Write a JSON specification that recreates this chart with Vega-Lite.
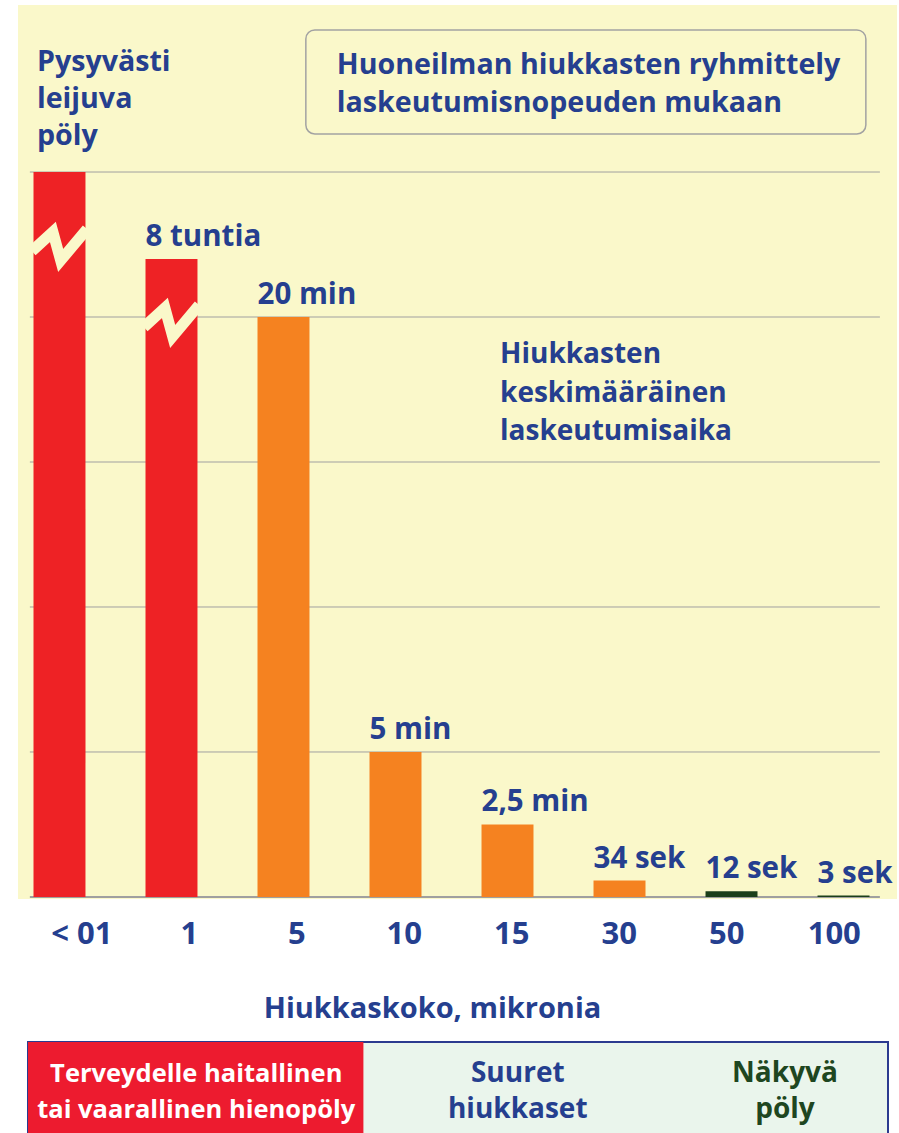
{
  "$schema": "https://vega.github.io/schema/vega-lite/v6.json",
  "width": 879,
  "height": 894,
  "autosize": {"type": "none"},
  "padding": {"left": 18, "top": 5, "right": 2, "bottom": 234},
  "background": "#ffffff",
  "config": {
    "view": {"fill": "#faf8ca", "stroke": null},
    "font": "Open Sans",
    "text": {"font": "Open Sans", "fontWeight": "bold", "fontSize": 28, "color": "#253f8f"}
  },
  "datasets": {
    "hiukkaset": [
      {"size": "< 01", "minutes": 25, "label": "", "luokka": "leijuva", "zone": "hieno", "brk": 22.55},
      {"size": "1", "minutes": 22, "label": "8 tuntia", "luokka": "leijuva", "zone": "hieno", "brk": 19.93},
      {"size": "5", "minutes": 20, "label": "20 min", "luokka": "laskeutuva", "zone": "hieno"},
      {"size": "10", "minutes": 5, "label": "5 min", "luokka": "laskeutuva", "zone": "suuret"},
      {"size": "15", "minutes": 2.5, "label": "2,5 min", "luokka": "laskeutuva", "zone": "suuret"},
      {"size": "30", "minutes": 0.567, "label": "34 sek", "luokka": "laskeutuva", "zone": "suuret"},
      {"size": "50", "minutes": 0.2, "label": "12 sek", "luokka": "näkyvä", "zone": "näkyvä"},
      {"size": "100", "minutes": 0.05, "label": "3 sek", "luokka": "näkyvä", "zone": "näkyvä"}
    ]
  },
  "resolve": {"scale": {"x": "independent"}, "axis": {"x": "independent"}},
  "layer": [
    {
      "layer": [
        {
          "data": {"values": [{"t": 0}, {"t": 5}, {"t": 10}, {"t": 15}, {"t": 20}, {"t": 25}]},
          "mark": {"type": "rule", "color": "#a0a0a0"},
          "encoding": {
            "y": {"field": "t", "type": "quantitative", "scale": {"domain": [-0.07, 30.76], "nice": false}, "axis": null},
            "x": {"datum": "< 01", "bandPosition": -0.07, "scale": {"domain": ["< 01", "1", "5", "10", "15", "30", "50", "100"], "range": [15.5, 851.5], "paddingInner": 0.536, "paddingOuter": 0}, "axis": null},
            "x2": {"datum": "100", "bandPosition": 1.2},
            "strokeWidth": {"condition": {"test": "datum.t === 0", "value": 2}, "value": 1}
          }
        },
        {
          "data": {"name": "hiukkaset"},
          "mark": {"type": "bar"},
          "encoding": {
            "x": {"field": "size", "type": "nominal", "scale": {"domain": ["< 01", "1", "5", "10", "15", "30", "50", "100"], "range": [15.5, 851.5], "paddingInner": 0.536, "paddingOuter": 0}, "axis": null},
            "y": {"field": "minutes", "type": "quantitative", "scale": {"domain": [-0.07, 30.76], "nice": false}, "axis": null},
            "color": {"field": "luokka", "type": "nominal", "scale": {"domain": ["leijuva", "laskeutuva", "näkyvä"], "range": ["#ee2225", "#f58220", "#1b3f1a"]}, "legend": null}
          }
        },
        {
          "data": {"name": "hiukkaset"},
          "transform": [{"filter": "isValid(datum.brk)"}],
          "mark": {"type": "point", "shape": "M -0.92 0.27 L -0.22 -0.37 L 0.04 0.58 L 0.92 -0.47", "filled": false, "stroke": "#faf8ca", "strokeWidth": 11, "size": 3600, "opacity": 1, "strokeCap": "butt", "strokeJoin": "miter"},
          "encoding": {
            "x": {"field": "size", "type": "nominal", "axis": null},
            "y": {"field": "brk", "type": "quantitative", "axis": null}
          }
        },
        {
          "data": {"name": "hiukkaset"},
          "transform": [{"filter": "datum.label !== ''"}],
          "mark": {"type": "text", "align": "left", "baseline": "alphabetic", "dy": -13, "fontSize": 29.5},
          "encoding": {
            "x": {"field": "size", "type": "nominal", "bandPosition": 0, "axis": null},
            "y": {"field": "minutes", "type": "quantitative", "axis": null},
            "text": {"field": "label"}
          }
        },
        {
          "data": {"values": [{}]},
          "mark": {"type": "text", "align": "left", "baseline": "alphabetic", "lineHeight": 37, "dx": 3.5, "fontSize": 28.6},
          "encoding": {
            "x": {"datum": "< 01", "bandPosition": 0, "axis": null},
            "y": {"datum": 28.48, "axis": null},
            "text": {"value": ["Pysyvästi", "leijuva", "pöly"]}
          }
        },
        {
          "data": {"values": [{}]},
          "mark": {"type": "rect", "fill": "#faf8ca", "stroke": "#a2a2a2", "strokeWidth": 1.5, "cornerRadius": 9},
          "encoding": {
            "x": {"datum": "5", "bandPosition": 0.93, "axis": null},
            "x2": {"datum": "100", "bandPosition": 0.93},
            "y": {"datum": 29.9, "axis": null},
            "y2": {"datum": 26.31}
          }
        },
        {
          "data": {"values": [{}]},
          "mark": {"type": "text", "align": "left", "baseline": "alphabetic", "lineHeight": 38, "dx": 31, "fontSize": 28.6},
          "encoding": {
            "x": {"datum": "5", "bandPosition": 0.93, "axis": null},
            "y": {"datum": 28.38, "axis": null},
            "text": {"value": ["Huoneilman hiukkasten ryhmittely", "laskeutumisnopeuden mukaan"]}
          }
        },
        {
          "data": {"values": [{}]},
          "mark": {"type": "text", "align": "left", "baseline": "alphabetic", "lineHeight": 38.5, "dx": 18.5},
          "encoding": {
            "x": {"datum": "15", "bandPosition": 0, "axis": null},
            "y": {"datum": 18.41, "axis": null},
            "text": {"value": ["Hiukkasten", "keskimääräinen", "laskeutumisaika"]}
          }
        }
      ]
    },
    {
      "layer": [
        {
          "data": {"values": [{}]},
          "mark": {"type": "rect", "fill": "#eaf5ec", "stroke": "#2b3a8f", "strokeWidth": 2},
          "encoding": {
            "x": {"datum": "< 01", "bandPosition": 0, "scale": {"domain": ["< 01", "1", "5", "10", "15", "30", "50", "100"], "range": [10, 870], "paddingInner": 0, "paddingOuter": 0},
              "axis": {"title": "Hiukkaskoko, mikronia", "domain": false, "ticks": false, "grid": false, "labelAngle": 0, "labelFont": "Open Sans", "labelFontWeight": "bold", "labelFontSize": 31, "labelColor": "#253f8f", "labelPadding": 20.5, "titleFont": "Open Sans", "titleFontWeight": "bold", "titleFontSize": 29, "titleColor": "#253f8f", "titleX": 414, "titleY": 95, "titleAlign": "center", "titleBaseline": "top"}},
            "x2": {"datum": "100", "bandPosition": 1},
            "y": {"datum": -5.0, "axis": null},
            "y2": {"datum": -8.6}
          }
        },
        {
          "data": {"values": [{}]},
          "mark": {"type": "rect", "color": "#ed1b2f"},
          "encoding": {
            "x": {"datum": "< 01", "bandPosition": 0, "axis": {"title": "Hiukkaskoko, mikronia"}},
            "x2": {"datum": "5", "bandPosition": 1.12},
            "y": {"datum": -5.0, "axis": null},
            "y2": {"datum": -8.6}
          }
        },
        {
          "data": {"values": [{}]},
          "mark": {"type": "text", "align": "center", "baseline": "alphabetic", "lineHeight": 36, "dx": 7, "color": "#ffffff", "fontSize": 25.5},
          "encoding": {
            "x": {"datum": "1", "axis": {"title": "Hiukkaskoko, mikronia"}},
            "y": {"datum": -6.38, "axis": null},
            "text": {"value": ["Terveydelle haitallinen", "tai vaarallinen hienopöly"]}
          }
        },
        {
          "data": {"values": [{}]},
          "mark": {"type": "text", "align": "center", "baseline": "alphabetic", "lineHeight": 36, "dx": 6, "fontSize": 28},
          "encoding": {
            "x": {"datum": "15", "axis": {"title": "Hiukkaskoko, mikronia"}},
            "y": {"datum": -6.38, "axis": null},
            "text": {"value": ["Suuret", "hiukkaset"]}
          }
        },
        {
          "data": {"values": [{}]},
          "mark": {"type": "text", "align": "center", "baseline": "alphabetic", "lineHeight": 36, "dx": 4.5, "color": "#1e4620", "fontSize": 28},
          "encoding": {
            "x": {"datum": "100", "bandPosition": 0, "axis": {"title": "Hiukkaskoko, mikronia"}},
            "y": {"datum": -6.38, "axis": null},
            "text": {"value": ["Näkyvä", "pöly"]}
          }
        }
      ]
    }
  ]
}
